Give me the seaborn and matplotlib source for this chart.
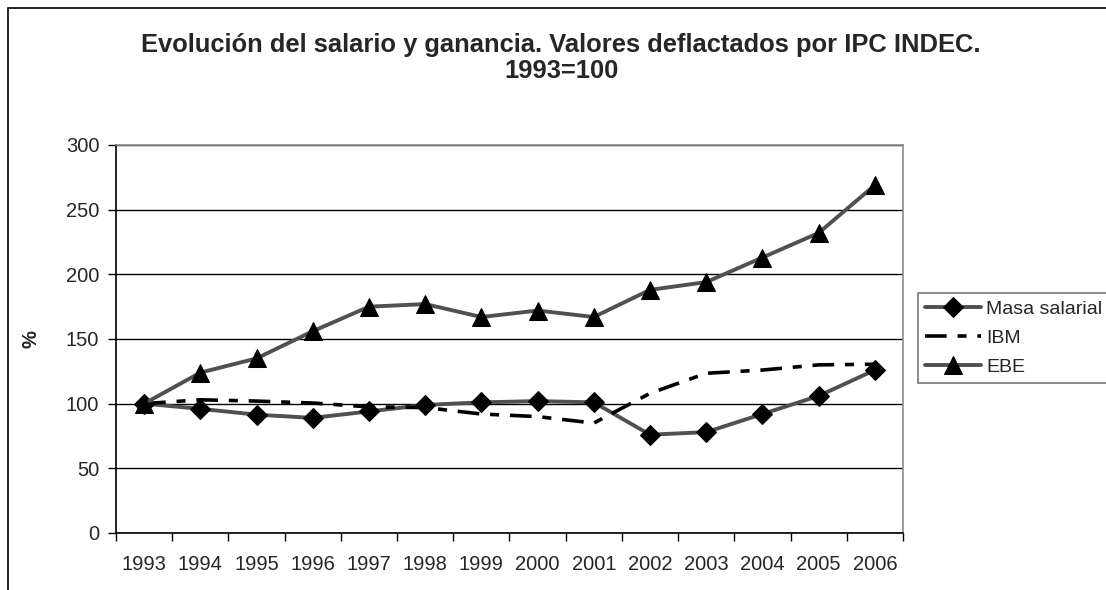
import numpy as np
import pandas as pd
import matplotlib
matplotlib.use('Agg')
import matplotlib.pyplot as plt
import seaborn as sns
from matplotlib.patches import Rectangle

# --- data ---
years = ['1993', '1994', '1995', '1996', '1997', '1998', '1999',
         '2000', '2001', '2002', '2003', '2004', '2005', '2006']
masa_salarial = [100, 96, 91.5, 89, 94, 99, 101, 102, 101, 76, 78, 92, 106, 126]
ibm = [100, 103, 102, 100.5, 97.5, 97, 92, 90, 85, 108, 123.5, 126, 130, 130.5]
ebe = [100, 124, 135, 156, 175, 177, 167, 172, 167, 188, 194, 213, 232, 269]
yticks = [0, 50, 100, 150, 200, 250, 300]

df = pd.DataFrame({
    'pos': np.arange(len(years)),
    'Masa salarial': masa_salarial,
    'IBM': ibm,
    'EBE': ebe,
})

sns.set_style('white')
plt.rcParams['font.family'] = ['Liberation Sans', 'DejaVu Sans']

fig = plt.figure(figsize=(11.06, 5.90), dpi=100)
W, H = 1106, 590
ax = fig.add_axes([116 / W, (H - 533) / H, (903 - 116) / W, (533 - 145) / H])

# outer chart frame (cut off on the right and bottom in the reference)
fig.patches.append(Rectangle((8 / W, -0.1), 1.2, (H - 8) / H + 0.1,
                             transform=fig.transFigure, fill=False,
                             edgecolor='black', linewidth=1.2, zorder=0))

gray = '#505050'
sns.lineplot(data=df, x='pos', y='Masa salarial', ax=ax, color=gray, lw=2.8,
             marker='D', markersize=10, markerfacecolor='black',
             markeredgecolor='black', label='Masa salarial', zorder=3)
sns.lineplot(data=df, x='pos', y='IBM', ax=ax, color='black', lw=2.6,
             dashes=(6, 3, 2.5, 3), label='IBM', zorder=3)
sns.lineplot(data=df, x='pos', y='EBE', ax=ax, color=gray, lw=2.8,
             marker='^', markersize=13, markerfacecolor='black',
             markeredgecolor='black', label='EBE', zorder=4)

ax.set_xlim(-0.5, len(years) - 0.5)
ax.set_ylim(0, 300)
ax.set_yticks(yticks)
ax.set_xticks(np.arange(len(years)))
ax.set_xticklabels(years)
ax.set_xticks(np.arange(len(years) + 1) - 0.5, minor=True)
ax.tick_params(axis='x', which='major', length=0, pad=16, labelsize=14.5)
ax.tick_params(axis='x', which='minor', length=6, width=1, color='black',
               direction='out', bottom=True)
ax.tick_params(axis='y', length=6, width=1, color='black', direction='out',
               left=True, pad=6, labelsize=14.5)

ax.grid(axis='y', color='black', lw=1)
ax.set_axisbelow(True)
for side in ['top', 'right']:
    ax.spines[side].set_color('#8c8c8c')
    ax.spines[side].set_linewidth(1.2)
for side in ['left', 'bottom']:
    ax.spines[side].set_color('black')
    ax.spines[side].set_linewidth(1.2)

ax.set_xlabel('')
ax.set_ylabel('%', fontsize=14.5, fontweight='bold')
ax.yaxis.set_label_coords((40 - 116) / 787, 0.5)

fig.text(561 / W, 1 - 52 / H, 'Evolución del salario y ganancia. Valores deflactados por IPC INDEC.',
         ha='center', va='baseline', fontsize=18.4, fontweight='bold')
fig.text(561 / W, 1 - 78 / H, '1993=100',
         ha='center', va='baseline', fontsize=18.4, fontweight='bold')

leg = ax.legend(loc='center left', bbox_to_anchor=(918 / W, 1 - 338 / H),
                bbox_transform=fig.transFigure, frameon=True, fancybox=False,
                fontsize=14, handlelength=2.9, handletextpad=0.25,
                labelspacing=0.6, borderpad=0.35, borderaxespad=0)
leg.get_frame().set_edgecolor('#555555')
leg.get_frame().set_linewidth(1.2)

fig.savefig('out.png', dpi=100)
